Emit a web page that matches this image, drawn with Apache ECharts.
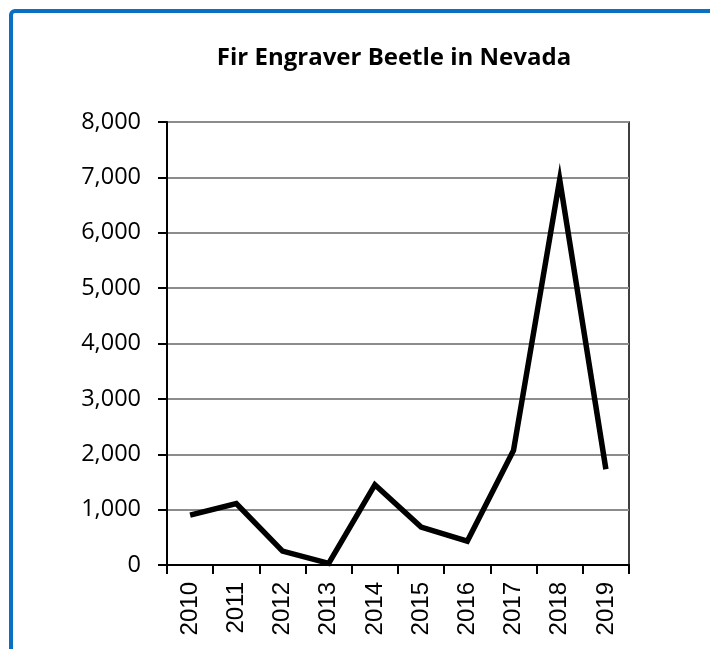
<!DOCTYPE html>
<html>
<head>
<meta charset="utf-8">
<script src="https://cdn.jsdelivr.net/npm/echarts@6/dist/echarts.min.js"></script>
<style>
  html, body { margin: 0; padding: 0; background: #fff; }
  #chart { width: 710px; height: 649px; }
</style>
</head>
<body>
<div id="chart"></div>
<script>
// Fir engraver beetle activity in Nevada, by year
const years = ['2010', '2011', '2012', '2013', '2014', '2015', '2016', '2017', '2018', '2019'];
const beetleValues = [900, 1110, 250, 30, 1450, 685, 430, 2070, 6960, 1730];
const yTicks = { min: 0, max: 8000, interval: 1000 };

const chart = echarts.init(document.getElementById('chart'), null, { renderer: 'canvas' });

chart.setOption({
  backgroundColor: '#ffffff',
  animation: false,
  graphic: [{
    type: 'rect',
    shape: { x: 11, y: 11, width: 760, height: 700, r: 4 },
    style: { fill: 'none', stroke: '#0a70c4', lineWidth: 4 },
    silent: true
  }],
  title: {
    text: 'Fir Engraver Beetle in Nevada',
    left: 389,
    textAlign: 'center',
    top: 41,
    textStyle: {
      fontFamily: 'Open Sans',
      fontWeight: 'bold',
      fontSize: 24,
      color: '#000'
    }
  },
  grid: {
    left: 167,
    right: 81,
    top: 122,
    bottom: 84,
    show: true,
    borderColor: '#000',
    borderWidth: 1.5
  },
  xAxis: {
    type: 'category',
    data: years,
    boundaryGap: true,
    axisLine: { lineStyle: { color: '#000', width: 2 } },
    axisTick: { show: true, alignWithLabel: false, length: 9, lineStyle: { color: '#000', width: 2 } },
    axisLabel: {
      rotate: 90,
      margin: 17,
      fontFamily: 'Liberation Sans',
      fontSize: 24,
      color: '#000'
    },
    splitLine: { show: false }
  },
  yAxis: {
    type: 'value',
    min: yTicks.min,
    max: yTicks.max,
    interval: yTicks.interval,
    axisLine: { show: true, lineStyle: { color: '#000', width: 2 } },
    axisTick: { show: true, length: 9, lineStyle: { color: '#000', width: 2 } },
    axisLabel: {
      margin: 26,
      fontFamily: 'Open Sans',
      fontSize: 23.5,
      color: '#000',
      formatter: v => v.toLocaleString('en-US')
    },
    splitLine: { show: true, lineStyle: { color: '#8c8c8c', width: 2 } }
  },
  series: [{
    type: 'line',
    data: beetleValues,
    showSymbol: false,
    symbol: 'none',
    lineStyle: { color: '#000', width: 5.5, join: 'miter' },
    itemStyle: { color: '#000' }
  }]
});
</script>
</body>
</html>
